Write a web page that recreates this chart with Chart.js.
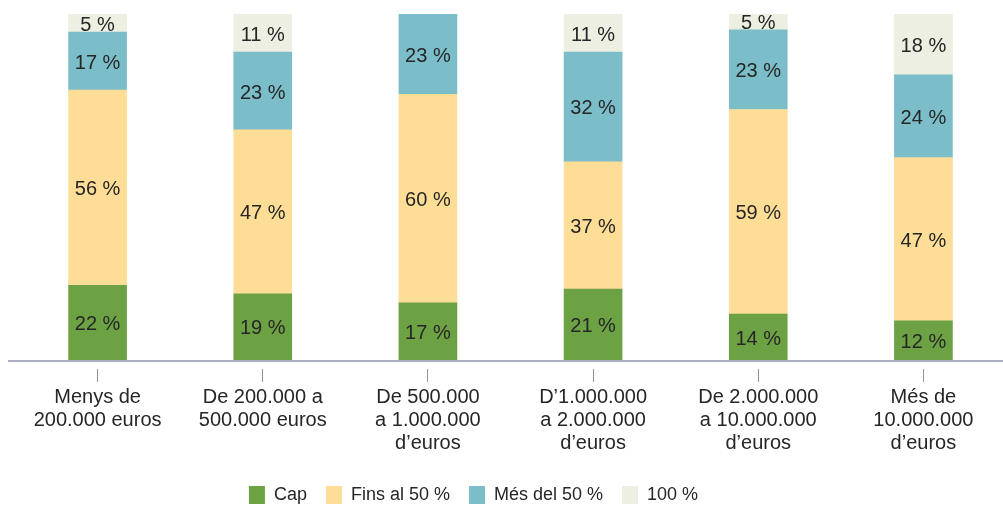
<!DOCTYPE html>
<html><head><meta charset="utf-8">
<script src="https://cdn.jsdelivr.net/npm/chart.js@4.4.1/dist/chart.umd.min.js"></script>
<style>
html,body{margin:0;padding:0;background:#fff;overflow:hidden;width:1003px;height:505px}
#wrap{position:absolute;left:0;top:0;width:1008px;height:514px}
</style></head><body>
<div id="wrap"><canvas id="c"></canvas></div>
<script>
// Categories (multi-line tick labels)
const categories = [
  ['Menys de', '200.000 euros'],
  ['De 200.000 a', '500.000 euros'],
  ['De 500.000', 'a 1.000.000', 'd’euros'],
  ['D’1.000.000', 'a 2.000.000', 'd’euros'],
  ['De 2.000.000', 'a 10.000.000', 'd’euros'],
  ['Més de', '10.000.000', 'd’euros']
];
const seriesNames = ['Cap', 'Fins al 50 %', 'Més del 50 %', '100 %'];

// Segment shares (%)
const cap      = [21.6, 19.1, 16.5, 20.5, 13.3, 11.3];
const finsAl50 = [56.4, 47.4, 60.3, 36.8, 59.1, 47.2];
const mesDel50 = [16.8, 22.5, 23.2, 31.7, 23.0, 23.9];
const total100 = [5.2, 11.0, 0, 11.0, 4.6, 17.6];

// Printed labels (%)
const capLabels      = [22, 19, 17, 21, 14, 12];
const finsAl50Labels = [56, 47, 60, 37, 59, 47];
const mesDel50Labels = [17, 23, 23, 32, 23, 24];
const total100Labels = [5, 11, 0, 11, 5, 18];

const colors = ['#6ca144', '#fedd96', '#7bbec9', '#ecefe2'];
const FONT = '"Liberation Sans", Arial, sans-serif';
const TEXT = '#262626';
const AXIS = '#8e93ab';

const seriesValues = [cap, finsAl50, mesDel50, total100];
const seriesLabels = [capLabels, finsAl50Labels, mesDel50Labels, total100Labels];

const segLabels = {
  id: 'segLabels',
  afterDatasetsDraw(chart) {
    const ctx = chart.ctx;
    ctx.save();
    ctx.font = '20px ' + FONT;
    ctx.fillStyle = TEXT;
    ctx.textAlign = 'center';
    ctx.textBaseline = 'middle';
    chart.data.datasets.forEach((ds, i) => {
      const meta = chart.getDatasetMeta(i);
      meta.data.forEach((bar, j) => {
        if (!ds.data[j]) return;
        const y = (bar.y + bar.base) / 2;
        ctx.fillText(seriesLabels[i][j] + ' %', bar.x, y + 2);
      });
    });
    ctx.restore();
  }
};

const baseline = {
  id: 'baseline',
  afterLayout(chart) {
    // legend sits a little left of centre in the original
    chart.legend.left -= 37;
    chart.legend.right -= 37;
  },
  afterDatasetsDraw(chart) {
    const ctx = chart.ctx;
    const y = chart.scales.y.getPixelForValue(0) + 1;
    ctx.save();
    ctx.strokeStyle = AXIS;
    ctx.lineWidth = 1.5;
    ctx.beginPath();
    ctx.moveTo(8, y);
    ctx.lineTo(chart.width, y);
    ctx.stroke();
    ctx.restore();
  }
};

new Chart(document.getElementById('c'), {
  type: 'bar',
  data: {
    labels: categories,
    datasets: seriesNames.map((name, i) => ({
      label: name,
      data: seriesValues[i],
      backgroundColor: colors[i],
      borderWidth: 0,
      barThickness: 58
    }))
  },
  options: {
    responsive: true,
    maintainAspectRatio: false,
    animation: false,
    layout: { padding: { left: 15, right: 2, top: 14, bottom: 0 } },
    plugins: {
      tooltip: { enabled: false },
      legend: {
        position: 'bottom',
        labels: {
          boxWidth: 16, boxHeight: 18, padding: 19,
          color: TEXT,
          font: { family: FONT, size: 18 }
        }
      }
    },
    scales: {
      x: {
        stacked: true,
        border: { display: false },
        afterFit(scale) { scale.height += 8; },
        grid: {
          offset: false,
          drawOnChartArea: false,
          drawTicks: true,
          tickLength: 22,
          tickColor: AXIS,
          tickWidth: 1,
          tickBorderDash: [0, 9, 13, 100]
        },
        ticks: {
          color: TEXT,
          font: { family: FONT, size: 20, lineHeight: 1.15 },
          padding: 4,
          maxRotation: 0,
          autoSkip: false
        }
      },
      y: {
        stacked: true,
        display: false,
        min: 0,
        max: 100
      }
    }
  },
  plugins: [segLabels, baseline]
});
</script>
</body></html>
